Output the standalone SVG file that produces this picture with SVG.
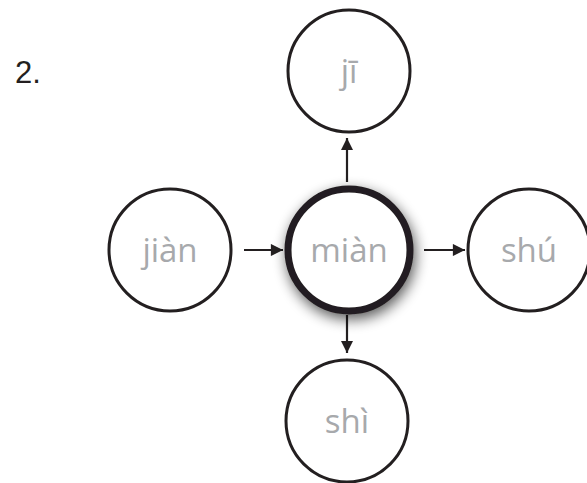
<svg xmlns="http://www.w3.org/2000/svg" width="587" height="483" viewBox="0 0 587 483">
<style>
.node{fill:#fff;stroke:#231f20;stroke-width:3}
.main{fill:#fff;stroke:#231f20;stroke-width:7}
.lbl{font-family:"Open Sans","Noto Sans",sans-serif;font-size:33px;fill:#a7a9ac;text-anchor:middle}
.edge{stroke:#231f20;stroke-width:2.2;fill:none;marker-end:url(#ah)}
</style>
<defs>
<marker id="ah" viewBox="0 0 10 10" refX="10" refY="5" markerWidth="6" markerHeight="5.5" orient="auto" markerUnits="strokeWidth">
<path d="M0,0 L10,5 L0,10 z" fill="#231f20"/>
</marker>
<filter id="sh" x="-40%" y="-40%" width="180%" height="180%">
<feGaussianBlur in="SourceAlpha" stdDeviation="7"/>
<feOffset dx="2" dy="5" result="b"/>
<feComponentTransfer><feFuncA type="linear" slope="0.65"/></feComponentTransfer>
<feMerge><feMergeNode/><feMergeNode in="SourceGraphic"/></feMerge>
</filter>
</defs>
<text x="15" y="83" font-family="Liberation Sans, Arial, sans-serif" font-size="31" fill="#231f20">2.</text>
<g id="connectors">
<line class="edge" x1="244" y1="250" x2="283" y2="250"/>
<line class="edge" x1="424" y1="250" x2="465" y2="250"/>
<line class="edge" x1="347" y1="182" x2="347" y2="138"/>
<line class="edge" x1="347" y1="315" x2="347" y2="353"/>
</g>
<g id="n-ji"><circle class="node" cx="349" cy="71" r="61"/><text class="lbl" x="349" y="83">jī</text></g>
<g id="n-jian"><circle class="node" cx="170" cy="250" r="61"/><text class="lbl" x="170" y="262">jiàn</text></g>
<g id="n-mian"><circle class="main" cx="349" cy="250" r="61" filter="url(#sh)"/><text class="lbl" x="349" y="262">miàn</text></g>
<g id="n-shu"><circle class="node" cx="529" cy="250" r="61"/><text class="lbl" x="529" y="262">shú</text></g>
<g id="n-shi"><circle class="node" cx="347" cy="421" r="61"/><text class="lbl" x="347" y="433">shì</text></g>
</svg>
